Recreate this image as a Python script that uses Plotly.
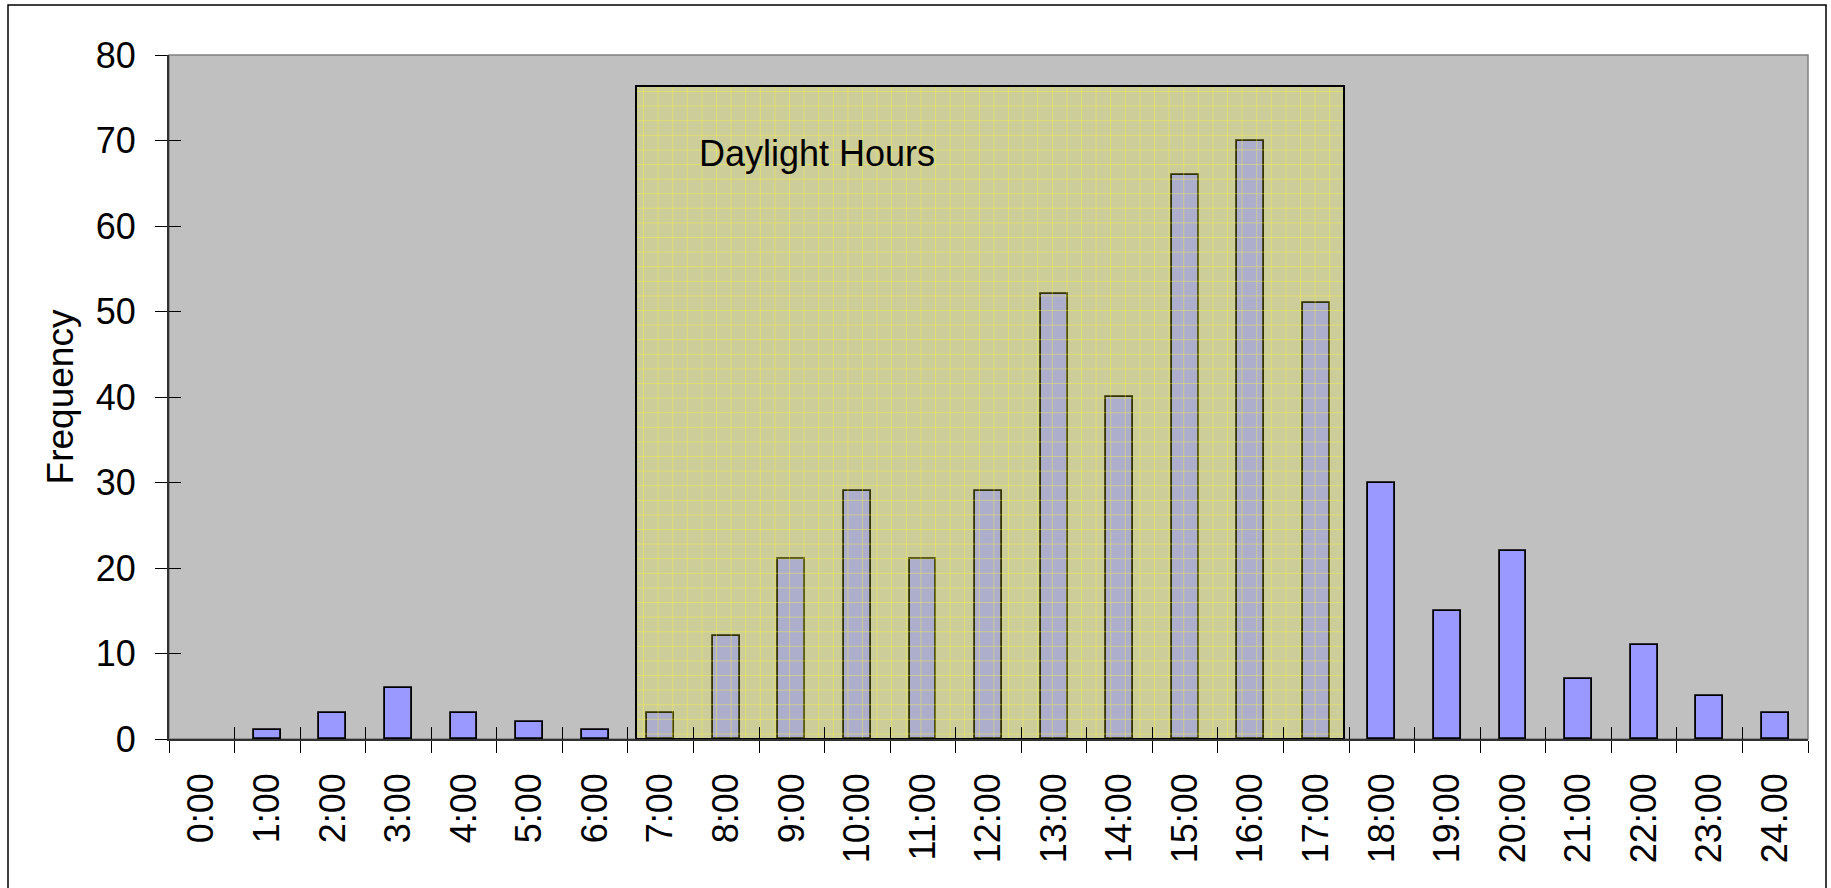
import plotly.graph_objects as go

# ---- data ----
hours = ["0:00", "1:00", "2:00", "3:00", "4:00", "5:00", "6:00", "7:00", "8:00",
         "9:00", "10:00", "11:00", "12:00", "13:00", "14:00", "15:00", "16:00",
         "17:00", "18:00", "19:00", "20:00", "21:00", "22:00", "23:00", "24.00"]
frequency = [0, 1, 3, 6, 3, 2, 1, 3, 12, 21, 29, 21, 29, 52, 40, 66, 70, 51,
             30, 15, 22, 7, 11, 5, 3]
y_ticks = [0, 10, 20, 30, 40, 50, 60, 70, 80]
y_title = "Frequency"

# daylight band (in category-index units along x, frequency units along y)
daylight_label = "Daylight Hours"
daylight_start = 6.63
daylight_end = 17.43
daylight_top = 76.4
label_x = 9.38
label_y = 68.5

FONT = "Liberation Sans, Arial, sans-serif"
n = len(hours)
x_range = [-0.5, n - 0.5]
boundaries = [i - 0.5 for i in range(n + 1)]

fig = go.Figure()

fig.add_trace(go.Bar(
    x=hours, y=frequency, width=0.41,
    marker=dict(color="#9999FF",
                line=dict(color="#000000",
                          width=[1.8 if v > 0 else 0 for v in frequency])),
    xaxis="x", yaxis="y", hoverinfo="x+y", showlegend=False,
))

fig.add_trace(go.Bar(
    x=[(daylight_start + daylight_end) / 2], y=[daylight_top], base=0,
    width=[daylight_end - daylight_start],
    marker=dict(
        color="rgba(255,255,0,0.2)",
        pattern=dict(shape="+", size=14.6, solidity=0.08,
                     fgcolor="rgba(255,255,40,0.6)",
                     bgcolor="rgba(255,255,0,0.2)", fillmode="replace"),
        line=dict(color="#000000", width=2),
    ),
    xaxis="x2", yaxis="y2", hoverinfo="skip", showlegend=False,
))

fig.add_annotation(
    text=daylight_label, xref="x2", yref="y2", x=label_x, y=label_y,
    showarrow=False, font=dict(family=FONT, size=36, color="#000000"),
    xanchor="center", yanchor="middle",
)

L, R, T, B = 169, 23, 55, 149
W, H = 1831, 888
pw, ph = W - L - R, H - T - B

# plot area border (gray)
fig.add_shape(type="rect", xref="paper", yref="paper", x0=0, x1=1, y0=0, y1=1,
              line=dict(color="#808080", width=1.5), layer="below")
# outer chart border
fig.add_shape(type="rect", xref="paper", yref="paper",
              x0=(8 - L) / pw, x1=(1826 - L) / pw,
              y0=-(B + 10) / ph, y1=(H - B - 5) / ph,
              line=dict(color="#000000", width=1.5), fillcolor="rgba(0,0,0,0)")

fig.update_layout(
    width=W, height=H,
    margin=dict(l=L, r=R, t=T, b=B, pad=0),
    paper_bgcolor="#FFFFFF", plot_bgcolor="#C0C0C0",
    font=dict(family=FONT, color="#000000"),
    showlegend=False, bargap=0,
    xaxis=dict(
        type="category", categoryorder="array", categoryarray=hours,
        range=x_range, tickson="boundaries", ticks="outside", ticklen=12,
        tickwidth=1, tickcolor="#000000", tickangle=-90, ticklabelstandoff=18,
        tickfont=dict(family=FONT, size=36, color="#000000"),
        showline=True, linecolor="#303030", linewidth=1.5,
        showgrid=False, zeroline=False, fixedrange=True,
    ),
    xaxis2=dict(
        overlaying="x", anchor="y", side="bottom", type="linear", range=x_range,
        tickmode="array", tickvals=boundaries, ticks="inside", ticklen=12,
        tickwidth=1, tickcolor="#000000", showticklabels=False,
        showline=False, showgrid=False, zeroline=False, fixedrange=True,
    ),
    yaxis=dict(
        range=[0, 80], tickmode="array", tickvals=y_ticks, ticks="outside",
        ticklen=12, tickwidth=1, tickcolor="#000000", ticklabelstandoff=12,
        tickfont=dict(family=FONT, size=36, color="#000000"),
        showline=True, linecolor="#303030", linewidth=2,
        showgrid=False, zeroline=False, fixedrange=True,
        title=dict(text=y_title, font=dict(family=FONT, size=37, color="#000000"),
                   standoff=11),
    ),
    yaxis2=dict(
        overlaying="y", anchor="x", side="left", range=[0, 80],
        tickmode="array", tickvals=y_ticks, ticks="inside", ticklen=12,
        tickwidth=1, tickcolor="#000000", showticklabels=False,
        showline=False, showgrid=False, zeroline=False, fixedrange=True,
    ),
)

fig.write_html("out.html", config={"displayModeBar": False},
               post_script="document.body.style.margin='0';")
